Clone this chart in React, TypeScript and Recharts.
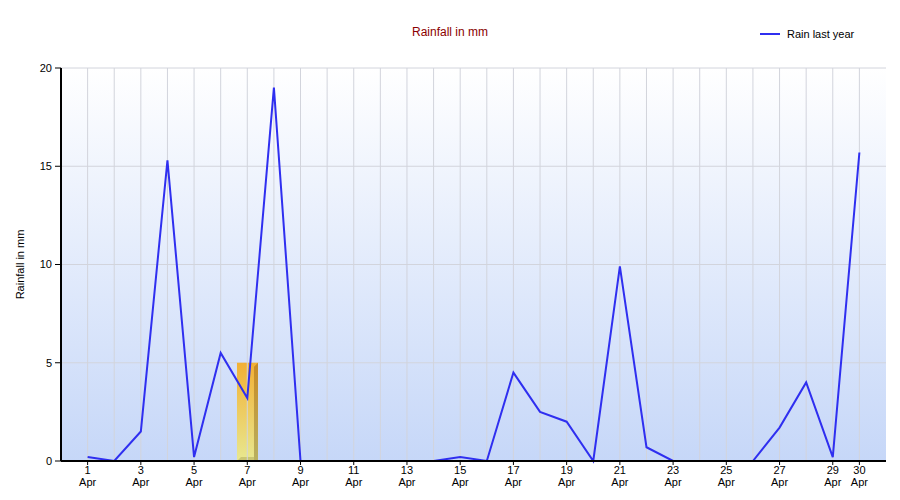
import React from 'react';
import {
  ComposedChart,
  Line,
  Bar,
  XAxis,
  YAxis,
  CartesianGrid,
  ReferenceLine,
} from 'recharts';

// April days and rainfall readings (mm)
const days = [
  1, 2, 3, 4, 5, 6, 7, 8, 9, 10, 11, 12, 13, 14, 15,
  16, 17, 18, 19, 20, 21, 22, 23, 24, 25, 26, 27, 28, 29, 30,
];
const rainLastYear = [
  0.2, 0, 1.5, 15.3, 0.2, 5.5, 3.2, 19, 0, 0, 0, 0, 0, 0, 0.2,
  0, 4.5, 2.5, 2.0, 0, 9.9, 0.7, 0, 0, 0, 0, 1.7, 4.0, 0.2, 15.7,
];
// highlighted day shown as a 3D bar
const highlightDay = 7;
const highlightValue = 5;

const xTicks = [1, 3, 5, 7, 9, 11, 13, 15, 17, 19, 21, 23, 25, 27, 29, 30];
const yTicks = [0, 5, 10, 15, 20];

const FONT = '"Liberation Sans", Arial, sans-serif';

const data = days.map((d, i) => ({
  day: d,
  rain: rainLastYear[i],
  highlight: d === highlightDay ? highlightValue : null,
}));

const DayTick = (props: any) => {
  const { x, y, payload } = props;
  return (
    <g transform={`translate(${x},${y})`}>
      <text x={0} y={9} textAnchor="middle" fontSize={11} fontFamily={FONT} fill="#000">
        {payload.value}
      </text>
      <text x={0} y={21} textAnchor="middle" fontSize={11} fontFamily={FONT} fill="#000">
        Apr
      </text>
    </g>
  );
};

// bar drawn with a little bevel so it looks like the 3D one in the original
const Bar3D = (props: any) => {
  const { x, y, width, height } = props;
  if (!height || height <= 0) return null;
  const d = 4;
  return (
    <g>
      <rect x={x} y={y} width={width} height={height} fill="url(#barFront)" />
      <polygon
        points={`${x + width - d},${y + d} ${x + width},${y} ${x + width},${y + height} ${x + width - d},${y + height}`}
        fill="url(#barSide)"
      />
      <polygon
        points={`${x},${y + height} ${x + d},${y + height - d} ${x + width - d},${y + height - d} ${x + width - d},${y + height}`}
        fill="#b8b060"
        opacity={0.6}
      />
    </g>
  );
};

export default function App() {
  return (
    <div style={{ position: 'absolute', left: 0, top: 0, width: 900, height: 500, background: '#fff' }}>
      <div
        style={{
          position: 'absolute',
          top: 25,
          left: 0,
          width: 900,
          textAlign: 'center',
          fontFamily: FONT,
          fontSize: 12,
          color: '#8b0000',
        }}
      >
        Rainfall in mm
      </div>
      <svg
        width={110}
        height={16}
        style={{ position: 'absolute', left: 760, top: 27 }}
      >
        <line x1={0} y1={7} x2={20} y2={7} stroke="#2f2ff0" strokeWidth={2} />
        <text x={27} y={11} fontSize={11} fontFamily={FONT} fill="#000">
          Rain last year
        </text>
      </svg>
      <ComposedChart
        width={900}
        height={500}
        data={data}
        margin={{ top: 68, right: 14, left: 0, bottom: 0 }}
      >
        <defs>
          <linearGradient id="plotBg" x1="0" y1="0" x2="0" y2="1">
            <stop offset="0%" stopColor="#ffffff" />
            <stop offset="100%" stopColor="#c6d7f8" />
          </linearGradient>
          <linearGradient id="barFront" x1="0" y1="0" x2="0" y2="1">
            <stop offset="0%" stopColor="#f2b035" />
            <stop offset="100%" stopColor="#e8e890" />
          </linearGradient>
          <linearGradient id="barSide" x1="0" y1="0" x2="0" y2="1">
            <stop offset="0%" stopColor="#c88a25" />
            <stop offset="100%" stopColor="#b8b060" />
          </linearGradient>
        </defs>
        <CartesianGrid
          vertical={false}
          stroke="#d2d4dc"
          fill="url(#plotBg)"
          fillOpacity={1}
        />
        {days.map((d) => (
          <ReferenceLine key={d} x={d} stroke="#d2d4dc" strokeWidth={1} />
        ))}
        <XAxis
          dataKey="day"
          type="number"
          domain={[0, 31]}
          ticks={xTicks}
          interval={0}
          height={39}
          tick={<DayTick />}
          tickSize={4}
          tickMargin={0}
          axisLine={{ stroke: '#000', strokeWidth: 2 }}
          tickLine={{ stroke: '#000' }}
        />
        <YAxis
          type="number"
          domain={[0, 20]}
          ticks={yTicks}
          width={61}
          tickSize={6}
          tickMargin={3}
          tick={{ fontSize: 11, fontFamily: FONT, fill: '#000' }}
          axisLine={{ stroke: '#000', strokeWidth: 2 }}
          tickLine={{ stroke: '#000' }}
          label={{
            value: 'Rainfall in mm',
            angle: -90,
            position: 'insideLeft',
            offset: 20,
            style: { textAnchor: 'middle', fontSize: 11, fontFamily: FONT, fill: '#000' },
          }}
        />
        <Bar
          dataKey="highlight"
          barSize={21}
          shape={<Bar3D />}
          legendType="none"
          isAnimationActive={false}
        />
        <Line
          dataKey="rain"
          type="linear"
          stroke="#2f2ff0"
          strokeWidth={2}
          dot={false}
          activeDot={false}
          isAnimationActive={false}
        />
      </ComposedChart>
    </div>
  );
}
